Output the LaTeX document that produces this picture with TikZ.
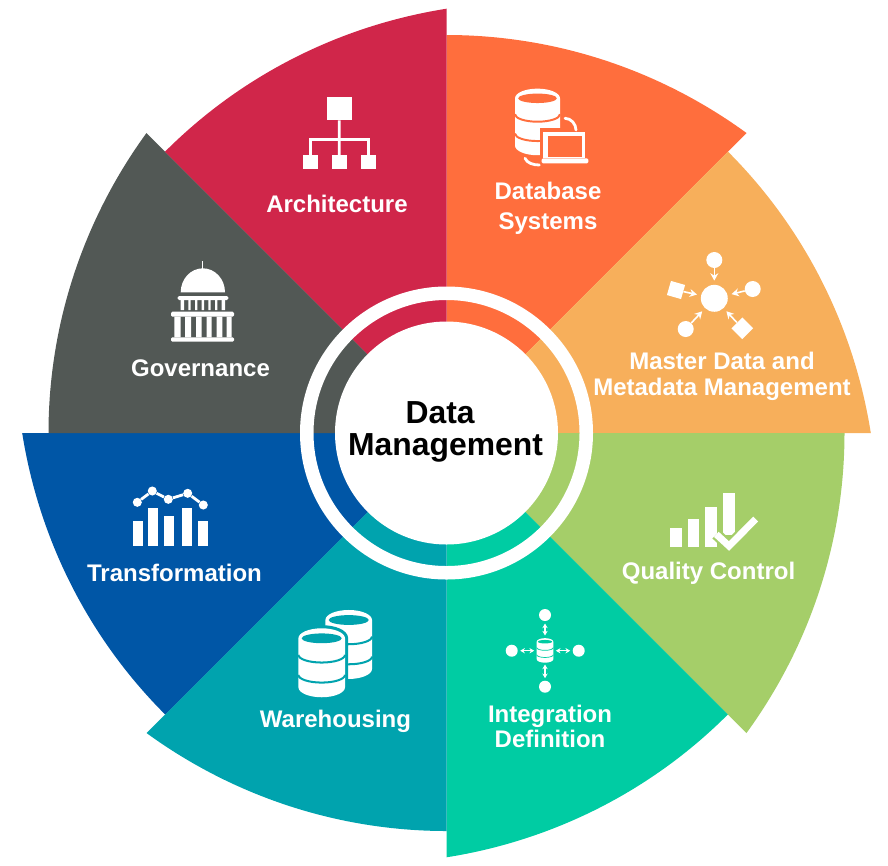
\documentclass[tikz,border=0pt]{standalone}
\usepackage{fontspec}
\setmainfont{Liberation Sans}
\usetikzlibrary{arrows.meta}
\definecolor{archcol}{HTML}{D0264A}
\definecolor{dbcol}{HTML}{FF6E3D}
\definecolor{mastercol}{HTML}{F7AF5B}
\definecolor{qualcol}{HTML}{A5CE69}
\definecolor{intcol}{HTML}{00CCA3}
\definecolor{warecol}{HTML}{00A3AE}
\definecolor{transcol}{HTML}{0056A6}
\definecolor{govcol}{HTML}{525855}
\tikzset{
  seglabel/.style={text=white,font=\fontsize{18}{#1}\selectfont\bfseries,align=center,inner sep=0.75pt},
  seglabel/.default=21,
  whitedot/.style={circle,fill=white,inner sep=0pt,minimum size=#1},
  whitebox/.style 2 args={rectangle,fill=white,inner sep=0pt,minimum width=#1,minimum height=#2},
  hubarrow/.style={white,line width=1.2pt,-{Stealth[length=5.5pt,width=6pt]},shorten >=3pt},
  bothways/.style={white,line width=0.8pt,{Stealth[length=3.5pt,width=4pt]}-{Stealth[length=3.5pt,width=4pt]},shorten >=1.7pt,shorten <=1.7pt}
}
% cylinder stack: x, y of the top centre, half width, background
\newcommand{\dbstack}[4]{%
  \begin{scope}[shift={(#1,#2)},scale=#3]
    \fill [white,preaction={draw=#4,line width=#3*0.2pt}] (-1,0) -- (-1,2.1) arc [start angle=180,end angle=0,x radius=1,y radius=0.43] -- (1,0) arc [start angle=0,end angle=-180,x radius=1,y radius=0.43] -- cycle ;
    \fill [#4] (0,0) ellipse [x radius=0.86,y radius=0.21] ;
    \draw [#4,line width=#3*0.065pt] (-1,0.71) arc [start angle=180,end angle=0,x radius=1,y radius=0.33] ;
    \draw [#4,line width=#3*0.065pt] (-1,1.57) arc [start angle=180,end angle=0,x radius=1,y radius=0.33] ;
  \end{scope}}

\begin{document}
\begin{tikzpicture}[x=0.75pt,y=0.75pt,yscale=-1]
\useasboundingbox (0,0) rectangle (888,865);
\coordinate (hub) at (446.5,433);

%Shape: Sectors
\fill [dbcol] (hub) -- (446.5,35) .. controls (554.3,35) and (659,69.3) .. (746.5,133) -- cycle ;
\fill [mastercol] (hub) -- (727.9,151.6) .. controls (804.2,227.8) and (853.9,326.1) .. (870.8,433) -- cycle ;
\fill [qualcol] (hub) -- (844.5,433) .. controls (844.5,540.8) and (810.2,645.5) .. (746.5,733) -- cycle ;
\fill [intcol] (hub) -- (727.9,714.4) .. controls (651.7,790.7) and (553.4,840.4) .. (446.5,857.3) -- cycle ;
\fill [warecol] (hub) -- (446.5,831) .. controls (338.7,831) and (234,796.7) .. (146.5,733) -- cycle ;
\fill [transcol] (hub) -- (165.1,714.4) .. controls (88.8,638.2) and (39.1,539.9) .. (22.2,433) -- cycle ;
\fill [govcol] (hub) -- (48.5,433) .. controls (48.5,325.2) and (82.8,220.5) .. (146.5,133) -- cycle ;
\fill [archcol] (hub) -- (165.1,151.6) .. controls (241.3,75.3) and (339.6,25.6) .. (446.5,8.7) -- cycle ;

%Shape: White ring and centre
\fill [white,even odd rule] (hub) circle (146.5) (hub) circle (133) ;
\node [circle,fill=white,inner sep=0pt,minimum size=167.25pt] (hubdisc) at (hub) {};
\node [font=\fontsize{23.9}{24}\selectfont\bfseries,align=center,inner sep=0.75pt] (title) at (445.5,432) {Data\hspace*{8pt}\\Management};

%Icon: Architecture
\node [whitebox={18.75pt}{17pt}] (archroot) at (339.2,108.7) {};
\node [whitebox={11pt}{10.7pt}] (archleafa) at (310.3,162.2) {};
\node [whitebox={11pt}{10.7pt}] (archleafb) at (339.3,162.2) {};
\node [whitebox={11pt}{10.7pt}] (archleafc) at (368.3,162.2) {};
\coordinate (archbar) at (339.3,139.3);
\draw [white,line width=2pt] (archroot) -- (archleafb) ;
\draw [white,line width=2pt] (archleafa.north) |- (archbar) -| (archleafc.north) ;

%Icon: Database Systems
\dbstack{537.5}{98.3}{22.5}{dbcol}
\fill [dbcol] (539.5,128) rectangle (591,167) ;
\fill [white] (543.3,131.7) rectangle (585,158) ;
\fill [dbcol] (548.3,136) rectangle (581.7,157.3) ;
\fill [white,rounded corners=1] (541.7,158.3) rectangle (588.3,163.3) ;
\draw [white,line width=2.1pt,line cap=round] (565,118.3) .. controls (571,118.3) and (576,124) .. (576,130) ;
\draw [white,line width=2.1pt,line cap=round] (525,158.3) .. controls (527,163) and (533,165) .. (539.3,165) ;

%Icon: Master Data
\node [whitedot=20.2pt] (masterhub) at (714.3,298.3) {};
\node [whitedot=12pt] (mastertop) at (714.3,260) {};
\node [whitedot=12pt] (masterright) at (752.7,289) {};
\node [whitedot=12pt] (masterleft) at (685.7,329) {};
\node [whitebox={11pt}{11pt},rotate=-16] (mastersquare) at (676,290) {};
\node [whitebox={11.5pt}{11.5pt},rotate=45] (masterdiamond) at (742.3,328.3) {};
\draw [hubarrow] (mastertop) -- (masterhub) ;
\draw [hubarrow] (masterright) -- (masterhub) ;
\draw [hubarrow] (masterleft) -- (masterhub) ;
\draw [hubarrow] (mastersquare) -- (masterhub) ;
\draw [hubarrow] (masterdiamond) -- (masterhub) ;

%Icon: Quality Control
\fill [white] (670,528.3) rectangle (681.7,547.3) ;
\fill [white] (687.7,519) rectangle (699.3,547.3) ;
\fill [white] (705.3,507.3) rectangle (717,547.3) ;
\fill [white] (723.3,492.7) rectangle (735,535) ;
\draw [qualcol,line width=8.6pt] (716.3,534.3) -- (729,546) -- (755.7,519) ;
\draw [white,line width=5.2pt] (716.3,534.3) -- (729,546) -- (755.7,519) ;

%Icon: Integration
\node [whitebox={12.5pt}{18pt},fill=none] (intdb) at (545,650) {};
\dbstack{545}{641.7}{8.3}{intcol}
\node [whitedot=9pt] (inttop) at (545,615) {};
\node [whitedot=9pt] (intbottom) at (545,686.7) {};
\node [whitedot=9pt] (intleft) at (511.7,650.7) {};
\node [whitedot=9pt] (intright) at (578.7,650.7) {};
\draw [bothways] (inttop) -- (intdb) ;
\draw [bothways] (intbottom) -- (intdb) ;
\draw [bothways] (intleft) -- (intleft -| intdb.west) ;
\draw [bothways] (intright) -- (intright -| intdb.east) ;

%Icon: Warehousing
\dbstack{348.7}{620}{23.3}{warecol}
\dbstack{321.7}{638.3}{23.3}{warecol}

%Icon: Transformation
\fill [white] (132.7,520.7) rectangle (143.3,546) ;
\fill [white] (147.7,507.7) rectangle (157.7,546) ;
\fill [white] (164.3,515.7) rectangle (174.3,546) ;
\fill [white] (181.7,507.7) rectangle (191.7,546) ;
\fill [white] (198.3,520.7) rectangle (208.3,546) ;
\node [whitedot=6.8pt] (transa) at (137.3,502.3) {};
\node [whitedot=6.8pt] (transb) at (152.3,491) {};
\node [whitedot=6.8pt] (transc) at (168.3,499.3) {};
\node [whitedot=6.8pt] (transd) at (187.7,493.3) {};
\node [whitedot=6.8pt] (transe) at (203.3,505) {};
\draw [white,line width=2.1pt] (transa) -- (transb) -- (transc) -- (transd) -- (transe) ;

%Icon: Governance
\draw [white,line width=0.9pt] (202.8,261) -- (202.8,270) ;
\fill [white] (180.7,292.3) arc [start angle=180,end angle=360,x radius=22.15,y radius=24] -- cycle ;
\fill [white,rounded corners=1] (177.7,296) rectangle (228.3,300) ;
\fill [white] (180.7,300) rectangle (184,310) (188.3,300) rectangle (190.7,310) (195,300) rectangle (197.3,310) (201.7,300) rectangle (204,310) (208.3,300) rectangle (210.7,310) (215,300) rectangle (217.3,310) (221.7,300) rectangle (225,310) ;
\fill [white,rounded corners=1] (171,311.7) rectangle (234,316.7) ;
\fill [white] (174.3,316.7) rectangle (180.7,337.3) (185,316.7) rectangle (191,337.3) (196,316.7) rectangle (201.7,337.3) (206.7,316.7) rectangle (211.7,337.3) (216.7,316.7) rectangle (222.3,337.3) (226.7,316.7) rectangle (231.7,337.3) ;
\fill [white,rounded corners=1] (171,337.3) rectangle (234,341.7) ;

% Text Node
\node [seglabel] (archlabel) at (337,204) {Architecture};
\node [seglabel=22.5pt] (dblabel) at (548,208) {Database\\Systems};
\node [seglabel=19.5pt] (masterlabel) at (722,376) {Master Data and\\Metadata Management};
\node [seglabel] (quallabel) at (708.5,573) {Quality Control};
\node [seglabel=18.75pt] (intlabel) at (550,726.5) {Integration\\Definition};
\node [seglabel] (warelabel) at (335.5,721.5) {Warehousing};
\node [seglabel] (translabel) at (174.5,573) {Transformation};
\node [seglabel] (govlabel) at (200.5,368) {Governance};
\end{tikzpicture}
\end{document}
